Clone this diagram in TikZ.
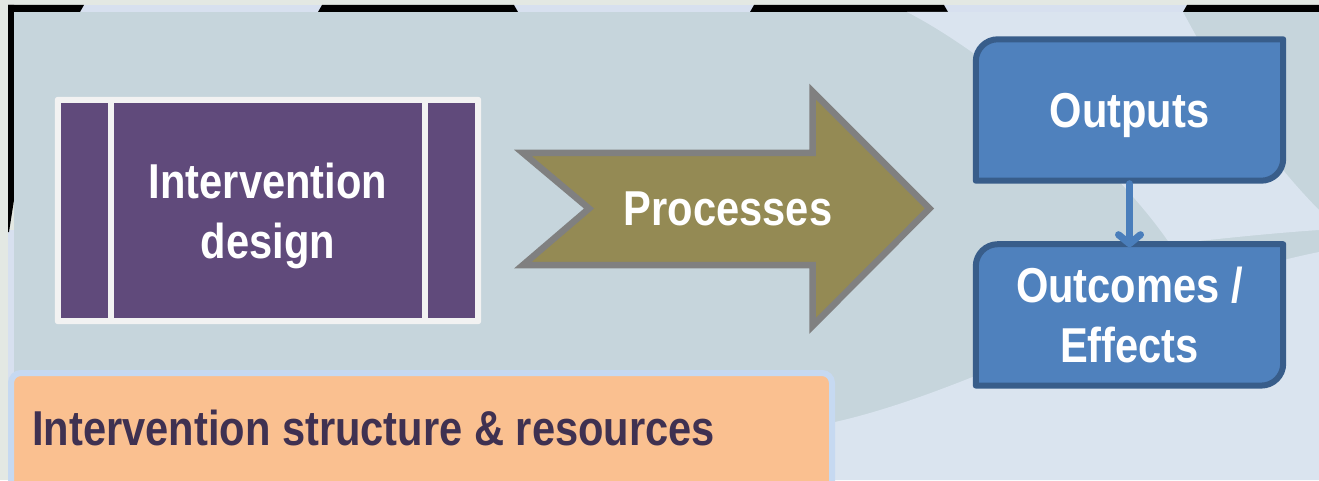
\documentclass[tikz,border=0pt]{standalone}
\usepackage{fontspec}
\setmainfont{Liberation Sans}
\newfontfamily\narrowsans{Liberation Sans}[FakeStretch=0.85]
\usetikzlibrary{arrows.meta,positioning,backgrounds}

\definecolor{outerbg}{HTML}{E3E8E3}
\definecolor{panelbg}{HTML}{C6D5DC}
\definecolor{paleband}{HTML}{DAE4EF}
\definecolor{edgeband}{HTML}{D7E0EF}
\definecolor{designfill}{HTML}{604A7B}
\definecolor{designframe}{HTML}{F2F2F2}
\definecolor{procfill}{HTML}{948A54}
\definecolor{procline}{HTML}{808080}
\definecolor{tabfill}{HTML}{4F81BD}
\definecolor{tabline}{HTML}{385D8A}
\definecolor{linkcol}{HTML}{4A7EBB}
\definecolor{resfill}{HTML}{FAC090}
\definecolor{resframe}{HTML}{C6D9F1}
\definecolor{restext}{HTML}{3F3151}

% tab shaped box behind a node: top left and bottom right rounded
\newcommand{\tabbox}[1]{%
  \filldraw[fill=tabfill,draw=tabline,line width=6pt,line join=round]
    (#1.south west) -- ([yshift=-22pt]#1.north west)
    arc[start angle=180,end angle=90,radius=22pt] -- (#1.north east)
    -- ([yshift=22pt]#1.south east)
    arc[start angle=0,end angle=-90,radius=22pt] -- cycle;}

\begin{document}
\begin{tikzpicture}[x=1pt,y=1pt,node distance=63.5pt,
  label/.style={font=\narrowsans\bfseries\fontsize{49}{60}\selectfont,text=white,
    align=center,inner sep=0pt,text depth=0pt},
  flowlink/.style={draw=linkcol,line width=7pt,line cap=round,
    -{Straight Barb[length=9pt,width=22pt,round]},shorten <=3pt,shorten >=-3pt}]
	\tikzstyle{tab}=[label,minimum width=307pt,minimum height=141pt]
	\useasboundingbox (0,0) rectangle (1319,480);
	\clip (0,0) rectangle (1319,480);

	\begin{scope}[on background layer]
	\fill[outerbg] (0,0) rectangle (1319,480);
	% top edge and left edge of the panel
	\fill[edgeband] (8,468) rectangle (1319,475);
	\fill[black] (8,468) -- (8,475) -- (84,475) -- (80,468) -- cycle;
	\fill[black] (318,468) -- (322,475) -- (514,475) -- (518,468) -- cycle;
	\fill[black] (750,468) -- (754,475) -- (944,475) -- (948,468) -- cycle;
	\fill[black] (1183,468) -- (1187,475) -- (1319,475) -- (1319,468) -- cycle;
	\fill[edgeband] (8,0) rectangle (14,250);
	\fill[black] (8,475) -- (14,475) -- (14,280) -- (9,248) -- (8,248) -- cycle;
	\fill[panelbg] (14,0) rectangle (1319,468);
	% pale bands
	\fill[paleband] (907,468) -- (1183,468) .. controls (1220,400) and (1255,335) .. (1319,270)
		-- (1319,250) .. controls (1260,246) and (1210,240) .. (1170,236)
		.. controls (1120,310) and (1000,420) .. (907,468) -- cycle;
	\fill[paleband] (790,50) .. controls (950,70) and (1130,190) .. (1319,228)
		-- (1319,0) -- (790,0) -- cycle;
	\end{scope}

	\node[label] (design) at (268,269.5) [minimum width=426pt,minimum height=227pt] {Intervention\\design};

	\draw[procline,fill=procfill,line width=6.5pt,line join=miter]
		(523,327) -- (812.5,327) -- (812.5,388.5) -- (929.5,271.5) -- (812.5,154)
		-- (812.5,215) -- (523,215) -- (589,271.5) -- cycle;
	\node[label] (processes) at (728,271.5) {Processes};

	\node[tab] (outputs) at (1129.5,370) {Outputs};
	\node[tab] (outcomes) [below=of outputs] {Outcomes /\\Effects};

	\node[draw=resframe,fill=resfill,line width=6pt,rounded corners=10pt,
		minimum width=821pt,minimum height=127pt] (resources) at (421.5,43.5) {};
	\node[font=\narrowsans\bfseries\fontsize{49}{60}\selectfont,text=restext,
		inner sep=0pt,anchor=base west] (restitle) at (32,35) {Intervention structure \& resources};

	\begin{scope}[on background layer]
	\fill[designframe,rounded corners=3pt] (design.north west) rectangle (design.south east);
	\fill[designfill] ([xshift=6pt,yshift=-6pt]design.north west) rectangle ([xshift=53pt,yshift=6pt]design.south west);
	\fill[designfill] ([xshift=59pt,yshift=-6pt]design.north west) rectangle ([xshift=367pt,yshift=6pt]design.south west);
	\fill[designfill] ([xshift=373pt,yshift=-6pt]design.north west) rectangle ([xshift=420pt,yshift=6pt]design.south west);
	\tabbox{outputs}
	\tabbox{outcomes}
	\end{scope}

	\draw[flowlink] (outputs) -- (outcomes);
\end{tikzpicture}
\end{document}
